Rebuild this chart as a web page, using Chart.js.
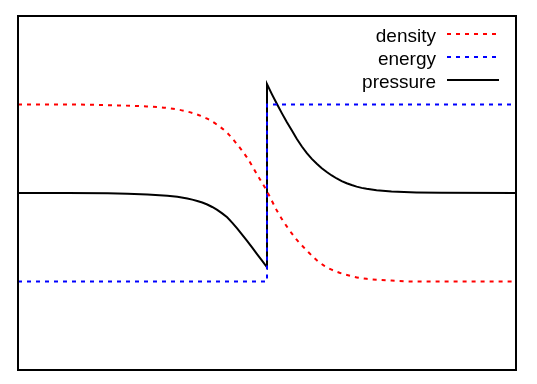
<!DOCTYPE html>
<html>
<head>
<meta charset="utf-8">
<script src="https://cdn.jsdelivr.net/npm/chart.js@4/dist/chart.umd.min.js"></script>
<style>
  html, body { margin: 0; padding: 0; background: #fff; }
  #wrap { width: 537px; height: 384px; }
</style>
</head>
<body>
<div id="wrap"><canvas id="shock" width="537" height="384"></canvas></div>
<script>
// Data (x runs 0..100 across the box, y -2..2)
const densityX = [0, 10, 16, 20, 25, 30, 34, 38, 40, 42, 44, 46, 48, 50, 52, 54, 56, 58, 60, 62, 64, 67, 70, 75, 80, 90, 100];
const densityY = [1, 1, 0.995, 0.99, 0.98, 0.96, 0.92, 0.84, 0.77, 0.68, 0.55, 0.4, 0.21, 0.02, -0.2, -0.38, -0.53, -0.65, -0.76, -0.84, -0.89, -0.94, -0.97, -0.99, -1, -1, -1];

const energyX = [0, 50, 50, 100];
const energyY = [-1, -1, 1, 1];

const pressureX = [0, 10, 18, 22, 26, 30, 32, 34, 35, 36, 37, 38, 39, 40, 41, 42, 43, 44, 45, 46, 47, 48, 49, 50,
                   50, 51, 52, 53, 54, 55, 56, 57, 58, 59, 60, 61, 62, 63, 64, 65, 66, 67, 68, 69, 70, 72, 75, 80, 85, 100];
const pressureY = [0, 0, -0.003, -0.008, -0.017, -0.032, -0.043, -0.062, -0.075, -0.09, -0.108, -0.13, -0.158, -0.19, -0.23, -0.275, -0.335, -0.4, -0.47, -0.54, -0.615, -0.69, -0.765, -0.84,
                   1.23, 1.115, 1.005, 0.9, 0.8, 0.705, 0.61, 0.525, 0.45, 0.385, 0.33, 0.28, 0.237, 0.198, 0.164, 0.135, 0.11, 0.09, 0.072, 0.058, 0.047, 0.03, 0.017, 0.007, 0.003, 0];

function pairs(xs, ys) {
    return xs.map((x, i) => ({x: x, y: ys[i]}));
}

// box round the plot + legend in the top right corner
const frameAndKey = {
    id: 'frameAndKey',
    afterDraw(chart) {
        const ctx = chart.ctx;
        const a = chart.chartArea;
        ctx.save();
        ctx.strokeStyle = '#000';
        ctx.lineWidth = 2;
        ctx.setLineDash([]);
        ctx.strokeRect(a.left, a.top, a.right - a.left, a.bottom - a.top);

        ctx.font = '19px "Liberation Sans", Arial, sans-serif';
        ctx.textAlign = 'right';
        ctx.textBaseline = 'alphabetic';
        chart.data.datasets.forEach((ds, i) => {
            const base = a.top + 26 + i * 23;
            ctx.fillStyle = '#000';
            ctx.fillText(ds.label, a.right - 80, base);
            ctx.strokeStyle = ds.borderColor;
            ctx.lineWidth = 2;
            ctx.setLineDash(ds.borderDash || []);
            ctx.beginPath();
            ctx.moveTo(a.right - 69, base - 8);
            ctx.lineTo(a.right - 17, base - 8);
            ctx.stroke();
        });
        ctx.restore();
    }
};

new Chart(document.getElementById('shock'), {
    type: 'line',
    data: {
        datasets: [
            {
                label: 'density',
                data: pairs(densityX, densityY),
                borderColor: '#ff0000',
                borderWidth: 2,
                borderDash: [4, 5],
                cubicInterpolationMode: 'monotone',
                pointRadius: 0
            },
            {
                label: 'energy',
                data: pairs(energyX, energyY),
                borderColor: '#0000ff',
                borderWidth: 2,
                borderDash: [4, 5],
                tension: 0,
                pointRadius: 0
            },
            {
                label: 'pressure',
                data: pairs(pressureX, pressureY),
                borderColor: '#000000',
                borderWidth: 2,
                tension: 0,
                pointRadius: 0
            }
        ]
    },
    options: {
        responsive: false,
        animation: false,
        layout: {padding: {left: 18, top: 16, right: 21, bottom: 14}},
        scales: {
            x: {type: 'linear', min: 0, max: 100, display: false},
            y: {min: -2, max: 2, display: false}
        },
        plugins: {
            legend: {display: false},
            tooltip: {enabled: false}
        }
    },
    plugins: [frameAndKey]
});
</script>
</body>
</html>
